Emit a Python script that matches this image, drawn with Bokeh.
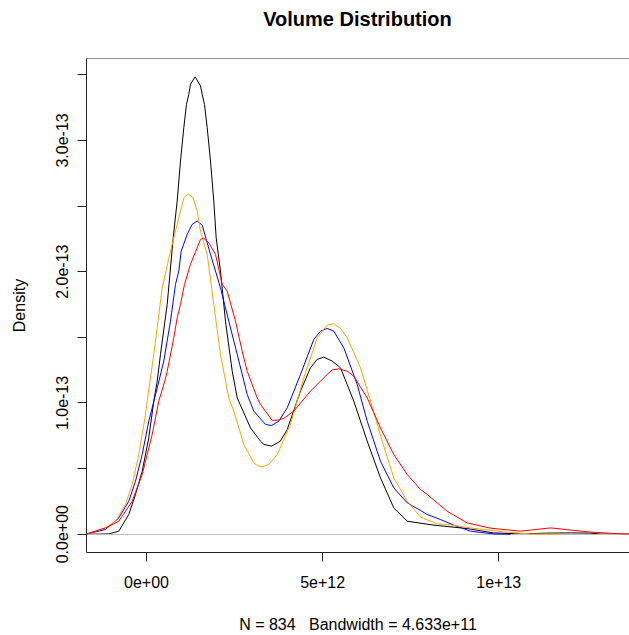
from bokeh.plotting import figure
from bokeh.models import Range1d, FixedTicker, Span, Div
from bokeh.layouts import column
from bokeh.embed import file_html
from bokeh.resources import INLINE

# Kernel density estimates of trade volume, one curve per group.
# x values in units of 1e12, density values in units of 1e-13.
XU = 1e12
YU = 1e-13

black_x = [-1.70, -1.07, -0.786, -0.502, -0.312, -0.122, 0.065, 0.207, 0.304, 0.397, 0.588,
           0.758, 0.871, 0.965, 1.059, 1.135, 1.201, 1.249, 1.38, 1.533, 1.581, 1.646, 1.723,
           1.817, 1.910, 1.978, 2.100, 2.242, 2.433, 2.575, 2.952, 3.236, 3.33, 3.548, 3.80,
           3.994, 4.371, 4.655, 4.845, 5.033, 5.27, 5.507, 5.884, 6.265, 6.642, 7.020, 7.400,
           8.155, 9.103, 9.850, 10.62, 11.33, 12.04, 12.60, 12.89, 13.71]
black_y = [0.0, 0.002, 0.023, 0.150, 0.303, 0.480, 0.734, 1.014, 1.166, 1.370, 1.751,
           2.258, 2.538, 2.843, 3.097, 3.275, 3.351, 3.428, 3.485, 3.415, 3.351, 3.275, 3.097,
           2.843, 2.538, 2.258, 2.005, 1.623, 1.242, 1.039, 0.810, 0.709, 0.684, 0.671, 0.709,
           0.798, 1.090, 1.268, 1.332, 1.349, 1.319, 1.268, 1.014, 0.709, 0.429, 0.200, 0.099,
           0.069, 0.043, 0.010, 0.002, 0.008, 0.010, 0.008, 0.001, 0.0]

orange_x = [-1.70, -1.164, -0.880, -0.596, -0.406, -0.219, -0.028, 0.020, 0.207, 0.446, 0.681,
            0.965, 1.059, 1.178, 1.325, 1.439, 1.533, 1.723, 1.910, 2.100, 2.336, 2.478, 2.762,
            3.046, 3.14, 3.284, 3.47, 3.710, 4.087, 4.465, 4.845, 5.129, 5.316, 5.507, 5.697,
            6.074, 6.358, 6.690, 7.020, 7.400, 7.777, 8.251, 8.535, 9.197, 10.13, 10.90, 11.75]
orange_y = [0.003, 0.048, 0.099, 0.226, 0.379, 0.607, 0.912, 1.014, 1.370, 1.877, 2.157,
            2.462, 2.563, 2.594, 2.563, 2.462, 2.309, 2.132, 1.751, 1.370, 1.039, 0.938, 0.684,
            0.543, 0.524, 0.513, 0.531, 0.607, 0.836, 1.191, 1.496, 1.593, 1.603, 1.568, 1.496,
            1.268, 1.014, 0.709, 0.429, 0.252, 0.130, 0.079, 0.074, 0.048, 0.018, 0.002, 0.0]

blue_x = [-1.70, -1.164, -0.786, -0.502, -0.312, -0.122, 0.065, 0.304, 0.491, 0.681, 0.823,
          0.917, 0.985, 1.155, 1.297, 1.439, 1.581, 1.817, 2.100, 2.336, 2.575, 2.858, 3.046,
          3.378, 3.548, 3.755, 3.994, 4.371, 4.749, 4.939, 5.129, 5.317, 5.600, 5.981, 6.265,
          6.642, 7.020, 7.400, 7.777, 7.968, 8.345, 8.723, 9.197, 9.850, 10.33]
blue_y = [0.002, 0.036, 0.124, 0.252, 0.404, 0.607, 0.861, 1.113, 1.319, 1.623, 1.903,
          2.005, 2.157, 2.284, 2.361, 2.386, 2.355, 2.132, 1.877, 1.623, 1.370, 1.065, 0.938,
          0.836, 0.828, 0.861, 0.963, 1.217, 1.484, 1.547, 1.568, 1.547, 1.420, 1.141, 0.861,
          0.556, 0.353, 0.239, 0.181, 0.150, 0.112, 0.069, 0.023, 0.002, 0.0]

red_x = [-1.70, -1.164, -0.786, -0.406, -0.122, 0.162, 0.349, 0.519, 0.588, 0.775, 0.871,
         0.965, 1.079, 1.249, 1.533, 1.618, 1.768, 1.959, 2.149, 2.291, 2.526, 2.716, 2.858,
         3.142, 3.236, 3.568, 3.710, 3.897, 4.181, 4.655, 5.129, 5.27, 5.458, 5.697, 5.884,
         6.265, 6.642, 7.020, 7.400, 7.777, 7.968, 8.535, 9.103, 9.764, 10.62, 11.47, 12.51,
         13.36, 13.71]
red_y = [0.002, 0.048, 0.099, 0.252, 0.455, 0.760, 1.014, 1.166, 1.242, 1.496, 1.649,
         1.751, 1.903, 2.056, 2.246, 2.256, 2.220, 2.132, 1.905, 1.852, 1.623, 1.395, 1.242,
         1.039, 0.989, 0.867, 0.869, 0.882, 0.938, 1.090, 1.217, 1.252, 1.260, 1.242, 1.204,
         1.039, 0.810, 0.607, 0.455, 0.341, 0.303, 0.175, 0.086, 0.046, 0.023, 0.048, 0.018,
         0.004, 0.001]

x_ticks = [0, 5e12, 1e13]
x_tick_labels = ["0e+00", "5e+12", "1e+13"]
y_ticks = [0, 1e-13, 2e-13, 3e-13]
y_tick_labels = ["0.0e+00", "1.0e-13", "2.0e-13", "3.0e-13"]
y_minor = [0.5e-13, 1.5e-13, 2.5e-13, 3.5e-13]

TITLE = "Volume Distribution"
FONT = "Liberation Sans"

def scaled(vals, unit):
    return [v * unit for v in vals]

peak = max(black_y) * YU
x_lo, x_hi = -1.703 * XU, 13.71 * XU
y_lo, y_hi = -0.04 * peak, 1.04 * peak

W = 629
HEADER_H = 53      # band holding the title
LEFT, TOP, BOTTOM = 86, 5, 83
FIG_H = 635 - HEADER_H

header = Div(text=TITLE, width=W, height=HEADER_H, margin=0,
             styles={"font-family": FONT, "font-size": "20px", "font-weight": "bold",
                     "color": "black", "text-align": "center", "line-height": "20px",
                     "padding-left": f"{LEFT}px", "padding-top": "9px",
                     "box-sizing": "border-box", "background": "white"})

p = figure(width=W, height=FIG_H, output_backend="svg", toolbar_location=None,
           x_range=Range1d(x_lo, x_hi), y_range=Range1d(y_lo, y_hi),
           min_border_left=LEFT, min_border_right=0, min_border_top=TOP, min_border_bottom=BOTTOM,
           x_axis_label="N = 834\u00a0\u00a0 Bandwidth = 4.633e+11", y_axis_label="Density",
           margin=0)

p.background_fill_color = "white"
p.border_fill_color = "white"
p.outline_line_color = None
p.grid.visible = False

for ax in (p.xaxis[0], p.yaxis[0]):
    ax.axis_line_color = "#222222"
    ax.axis_line_width = 1
    ax.major_tick_line_color = "#222222"
    ax.minor_tick_line_color = "#222222"
    ax.major_tick_out = 9
    ax.major_tick_in = 0
    ax.minor_tick_out = 9
    ax.minor_tick_in = 0
    ax.major_label_text_font = FONT
    ax.major_label_text_font_size = "16px"
    ax.major_label_text_color = "black"
    ax.axis_label_text_font = FONT
    ax.axis_label_text_font_size = "16px"
    ax.axis_label_text_font_style = "normal"
    ax.axis_label_text_color = "black"

p.xaxis[0].ticker = FixedTicker(ticks=x_ticks, minor_ticks=[])
p.xaxis[0].major_label_overrides = dict(zip(x_ticks, x_tick_labels))
p.xaxis[0].major_label_standoff = 14
p.xaxis[0].axis_label_standoff = 25

p.yaxis[0].ticker = FixedTicker(ticks=y_ticks, minor_ticks=y_minor)
p.yaxis[0].major_label_overrides = dict(zip(y_ticks, y_tick_labels))
p.yaxis[0].major_label_orientation = "vertical"
p.yaxis[0].major_label_standoff = 9
p.yaxis[0].axis_label_standoff = 26

# top edge of the plot box
p.add_layout(Span(location=y_hi, dimension="width", line_color="#222222", line_width=1))

p.line(scaled(black_x, XU), scaled(black_y, YU), line_color="black", line_width=1)
p.hspan(y=0, line_color="#bebebe", line_width=1)
p.line(scaled(blue_x, XU), scaled(blue_y, YU), line_color="blue", line_width=1)
p.line(scaled(orange_x, XU), scaled(orange_y, YU), line_color="orange", line_width=1)
p.line(scaled(red_x, XU), scaled(red_y, YU), line_color="red", line_width=1)

layout = column(header, p, spacing=0, margin=0)

open("out.html", "w").write(file_html(layout, INLINE))
